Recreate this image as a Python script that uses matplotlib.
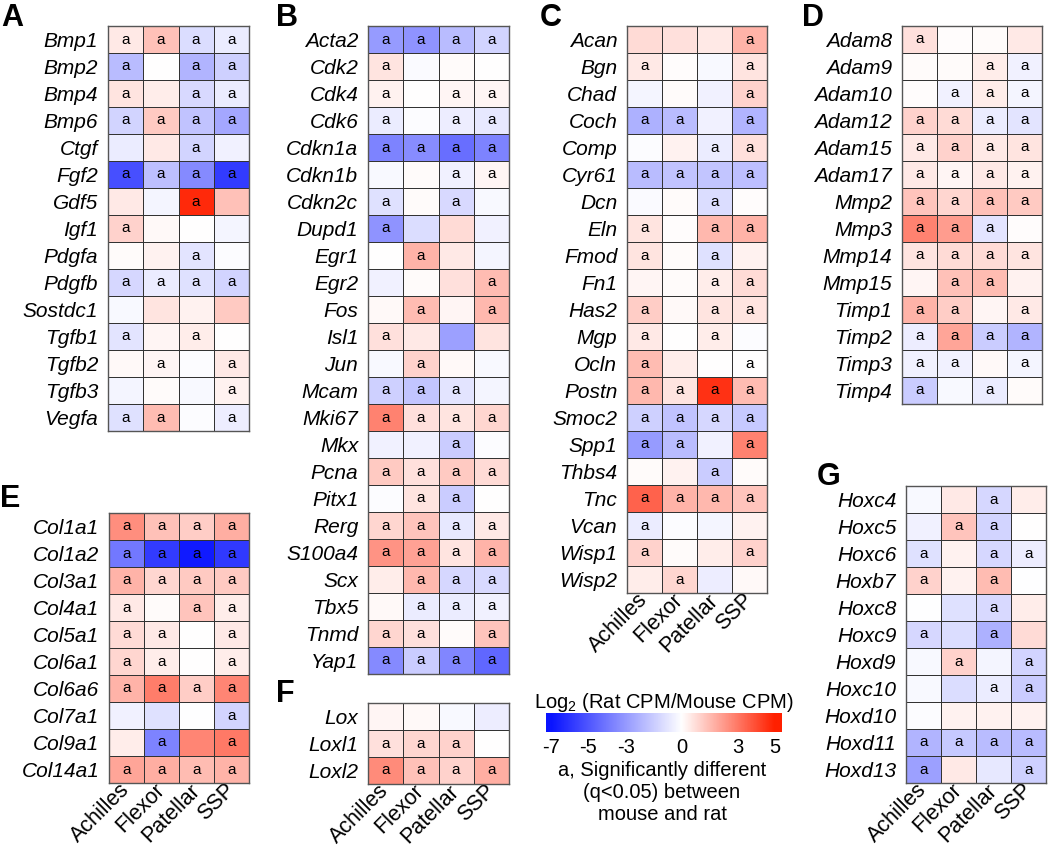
import numpy as np
import matplotlib.pyplot as plt
from matplotlib.colors import LinearSegmentedColormap, TwoSlopeNorm

plt.rcParams['font.family'] = ['Liberation Sans', 'DejaVu Sans']
plt.rcParams['mathtext.default'] = 'regular'
plt.rcParams['axes.unicode_minus'] = False

tissues = ['Achilles', 'Flexor', 'Patellar', 'SSP']

# Panel A - growth factors
genes_a = ['Bmp1', 'Bmp2', 'Bmp4', 'Bmp6', 'Ctgf', 'Fgf2', 'Gdf5', 'Igf1',
           'Pdgfa', 'Pdgfb', 'Sostdc1', 'Tgfb1', 'Tgfb2', 'Tgfb3', 'Vegfa']
vals_a = [[0.5, 1.4, -1.0, -0.6], [-2.0, 0.0, -2.2, -1.4], [0.6, 0.4, -1.1, -0.6],
          [-1.3, 1.2, -1.8, -2.6], [-0.6, 0.5, -1.3, -0.4], [-5.2, -1.9, -3.5, -5.8],
          [0.5, -0.3, 4.8, 1.4], [1.0, 0.15, 0.0, -0.3], [0.1, 0.3, -0.8, -0.1],
          [-1.2, -0.6, -0.9, -1.3], [-0.2, 0.6, 0.3, 1.2], [-0.8, 0.2, 0.4, 0.0],
          [0.15, 0.2, -0.1, 0.5], [-0.3, 0.1, -0.2, 0.3], [-0.9, 1.5, -0.1, -0.5]]
sig_a = ['aaaa', 'a.aa', 'a.aa', 'aaaa', '..a.', 'aaaa', '..a.', 'a...',
         '..a.', 'aaaa', '....', 'a.a.', '.a.a', '...a', 'aa.a']

# Panel B - cell markers
genes_b = ['Acta2', 'Cdk2', 'Cdk4', 'Cdk6', 'Cdkn1a', 'Cdkn1b', 'Cdkn2c', 'Dupd1',
           'Egr1', 'Egr2', 'Fos', 'Isl1', 'Jun', 'Mcam', 'Mki67', 'Mkx', 'Pcna',
           'Pitx1', 'Rerg', 'S100a4', 'Scx', 'Tbx5', 'Tnmd', 'Yap1']
vals_b = [[-3.0, -3.2, -2.0, -1.3], [0.6, -0.15, 0.1, 0.0], [0.3, 0.0, 0.2, 0.2],
          [-0.6, -0.1, -0.5, -0.7], [-3.7, -3.4, -4.3, -3.7], [-0.2, 0.1, -0.4, 0.2],
          [-0.9, 0.1, -1.1, -0.2], [-3.2, -1.0, 0.8, -0.4], [0.0, 1.7, 0.5, -0.3],
          [-0.4, 0.1, 0.7, 1.5], [0.15, 1.5, 0.2, 1.6], [0.7, 0.5, -2.8, 0.6],
          [-0.2, 1.0, 0.15, -0.2], [-1.4, -1.7, -0.8, -0.3], [2.8, 0.7, 0.6, 0.9],
          [-0.4, -0.4, -1.5, -0.1], [1.2, 0.7, 1.2, 0.8], [-0.1, 0.6, -1.5, 0.0],
          [0.9, 1.3, -0.7, 0.5], [2.4, 2.1, 0.6, 1.7], [0.4, 1.6, -1.2, -1.1],
          [0.15, -0.6, -0.6, -0.4], [0.9, 0.7, 0.1, 1.3], [-3.5, -1.5, -3.6, -4.5]]
sig_b = ['aaaa', 'a...', 'a.aa', 'a.aa', 'aaaa', '..aa', 'a.a.', 'a...',
         '.a..', '...a', '.a.a', 'a...', '.a..', 'aaa.', 'aaaa', '..a.', 'aaaa',
         '.aa.', 'aaaa', 'aaaa', '.aaa', '.aaa', 'aa.a', 'aaaa']

# Panel C - ECM
genes_c = ['Acan', 'Bgn', 'Chad', 'Coch', 'Comp', 'Cyr61', 'Dcn', 'Eln', 'Fmod',
           'Fn1', 'Has2', 'Mgp', 'Ocln', 'Postn', 'Smoc2', 'Spp1', 'Thbs4', 'Tnc',
           'Vcan', 'Wisp1', 'Wisp2']
vals_c = [[0.8, 0.7, 0.5, 1.7], [0.5, 0.05, -0.2, 0.6], [-0.3, 0.1, -0.4, 1.0],
          [-2.3, -2.0, -0.4, -2.2], [-0.1, 0.3, -0.6, 0.7], [-2.0, -1.8, -1.7, -1.9],
          [-0.15, 0.1, -1.0, 0.05], [0.6, 0.05, 1.6, 1.7], [0.6, 0.1, -0.9, 0.3],
          [0.2, 0.1, 0.4, 0.8], [1.1, 0.15, 0.6, 0.6], [0.5, 0.0, 0.4, -0.1],
          [1.5, 0.4, 0.0, 0.0], [1.6, 0.6, 4.6, 1.5], [-1.4, -1.8, -1.2, -1.6],
          [-3.0, -2.0, -0.4, 2.8], [0.1, 0.3, -1.5, 0.1], [3.5, 1.7, 1.6, 1.3],
          [-0.6, -0.1, -0.3, 0.3], [1.0, 0.1, 0.4, 1.0], [0.4, 0.9, -0.5, 0.15]]
sig_c = ['...a', 'a..a', '...a', 'aa.a', '..aa', 'aaaa', '..a.', 'a.aa', 'a.a.',
         '..aa', 'a.aa', 'a.a.', 'a..a', 'aaaa', 'aaaa', 'aa.a', '..a.', 'aaaa',
         'a...', 'a..a', '.a..']

# Panel D - proteases
genes_d = ['Adam8', 'Adam9', 'Adam10', 'Adam12', 'Adam15', 'Adam17', 'Mmp2', 'Mmp3',
           'Mmp14', 'Mmp15', 'Timp1', 'Timp2', 'Timp3', 'Timp4']
vals_d = [[0.7, 0.05, 0.1, 0.5], [0.1, 0.1, 0.4, -0.4], [0.05, -0.4, 0.4, -0.3],
          [1.0, 0.8, -0.6, -0.8], [0.5, 1.0, 0.5, 0.6], [0.5, 0.2, 0.5, 0.3],
          [1.3, 0.9, 1.4, 1.2], [2.8, 2.2, -0.8, 0.05], [0.6, 0.8, 0.8, 0.6],
          [0.2, 1.4, 1.5, 0.3], [1.7, 1.1, 0.2, 0.5], [-0.5, 2.0, -1.5, -2.2],
          [-0.4, -0.4, 0.15, -0.3], [-1.5, -0.2, -0.6, 0.1]]
sig_d = ['a...', '..aa', '.aaa', 'aaaa', 'aaaa', 'aaaa', 'aaaa', 'aaa.', 'aaaa',
         '.aa.', 'aa.a', 'aaaa', 'aa.a', 'a.a.']

# Panel E - collagens
genes_e = ['Col1a1', 'Col1a2', 'Col3a1', 'Col4a1', 'Col5a1', 'Col6a1', 'Col6a6',
           'Col7a1', 'Col9a1', 'Col14a1']
vals_e = [[2.5, 1.4, 1.1, 1.8], [-4.0, -5.8, -6.8, -5.9], [1.7, 0.9, 1.2, 1.2],
          [0.5, 0.1, 1.3, 0.4], [0.8, 0.5, 0.02, 0.5], [0.9, 0.4, 0.02, 0.4],
          [1.7, 2.9, 1.1, 2.7], [-0.4, -0.9, -0.05, -1.3], [0.4, -3.7, 2.7, 3.0],
          [2.0, 1.8, 1.5, 1.7]]
sig_e = ['aaaa', 'aaaa', 'aaaa', 'a.aa', 'aa.a', 'aa.a', 'aaaa', '...a', '.a.a', 'aaaa']

# Panel F - lysyl oxidases
genes_f = ['Lox', 'Loxl1', 'Loxl2']
vals_f = [[0.2, 0.15, -0.2, -0.5], [0.7, 0.9, 1.0, 0.0], [2.6, 1.4, 1.0, 1.8]]
sig_f = ['....', 'aaa.', 'aaaa']

# Panel G - Hox genes
genes_g = ['Hoxc4', 'Hoxc5', 'Hoxc6', 'Hoxb7', 'Hoxc8', 'Hoxc9', 'Hoxd9', 'Hoxc10',
           'Hoxd10', 'Hoxd11', 'Hoxd13']
vals_g = [[-0.2, 0.5, -1.2, 0.4], [-0.4, 1.3, -1.3, 0.0], [-0.9, 0.3, -1.2, -0.5],
          [1.0, 0.3, 1.5, -0.05], [-0.05, -0.9, -1.1, 0.4], [-1.2, -1.0, -2.3, 0.8],
          [-0.2, 1.0, -0.3, -1.3], [-0.2, -1.0, -0.6, -1.5], [-0.1, 0.3, 0.3, 0.3],
          [-2.2, -1.6, -2.0, -2.0], [-2.8, 0.5, -0.7, -1.4]]
sig_g = ['..a.', '.aa.', 'a.aa', 'a.a.', '..a.', 'a.a.', '.a.a', '..aa', '....',
         'aaaa', 'a..a']

cbar_ticks = [-7, -5, -3, 0, 3, 5]

W, H = 1050, 851
fig = plt.figure(figsize=(W / 100, H / 100), dpi=100)

cmap = LinearSegmentedColormap.from_list('rb', ['#0a14ff', '#ffffff', '#ff2000'])
norm = TwoSlopeNorm(vmin=-7, vcenter=0, vmax=5)


def px_axes(x0, y0, x1, y1):
    return fig.add_axes([x0 / W, 1 - y1 / H, (x1 - x0) / W, (y1 - y0) / H])


def ftext(x, y, s, **kw):
    fig.text(x / W, 1 - y / H, s, **kw)


def heatmap(x0, y0, x1, genes, values, sig, xlabels):
    y1 = y0 + 27 * len(genes)
    ax = px_axes(x0, y0, x1, y1)
    ax.pcolormesh(np.array(values), cmap=cmap, norm=norm,
                  edgecolors='#333333', linewidth=0.7)
    ax.set_xlim(0, 4)
    ax.set_ylim(len(genes), 0)
    for i, row in enumerate(sig):
        for j, ch in enumerate(row):
            if ch == 'a':
                ax.text(j + 0.5, i + 0.5, 'a', ha='center', va='center', fontsize=11)
    ax.set_yticks(np.arange(len(genes)) + 0.5)
    ax.set_yticklabels(genes, fontstyle='italic', fontsize=15)
    ax.tick_params(axis='y', length=0, pad=7)
    if xlabels:
        ax.set_xticks(np.arange(4) + 0.5)
        ax.set_xticklabels(tissues, rotation=45, ha='right', va='center',
                           rotation_mode='anchor', fontsize=15.5)
        ax.tick_params(axis='x', length=0, pad=3)
    else:
        ax.set_xticks([])
    for s in ax.spines.values():
        s.set_color('#555555')
        s.set_linewidth(1)
    return ax


heatmap(108, 26, 249, genes_a, vals_a, sig_a, False)
heatmap(368, 26, 509, genes_b, vals_b, sig_b, False)
heatmap(627, 26, 767, genes_c, vals_c, sig_c, True)
heatmap(902, 26, 1042, genes_d, vals_d, sig_d, False)
heatmap(109, 513, 249, genes_e, vals_e, sig_e, True)
heatmap(368, 703, 509, genes_f, vals_f, sig_f, True)
heatmap(906, 486, 1046, genes_g, vals_g, sig_g, True)

# panel letters
for lab, x, y in [('A', 1, 26), ('B', 276, 26), ('C', 540, 26), ('D', 802, 26),
                  ('E', 0, 507), ('F', 276, 702), ('G', 817, 485)]:
    ftext(x, y, lab, fontsize=22, fontweight='bold', va='baseline')

# colour bar
cax = px_axes(546, 713, 782, 732)
lo, hi = -7.27, 5.37
grad = np.linspace(lo, hi, 400).reshape(1, -1)
cax.imshow(grad, cmap=cmap, norm=norm, aspect='auto', extent=[lo, hi, 0, 1])
cax.set_xlim(lo, hi)
cax.set_yticks([])
cax.set_xticks(cbar_ticks)
cax.set_xticklabels([str(t) for t in cbar_ticks], fontsize=14.5)
cax.tick_params(axis='x', length=0, pad=4)
for s in cax.spines.values():
    s.set_visible(False)

ftext(664, 702, 'Log$_2$ (Rat CPM/Mouse CPM)', ha='center', va='center', fontsize=14.5)
ftext(662, 792, 'a, Significantly different\n(q<0.05) between\nmouse and rat',
      ha='center', va='center', fontsize=14.5, linespacing=1.2)

fig.savefig('out.png', dpi=100)
